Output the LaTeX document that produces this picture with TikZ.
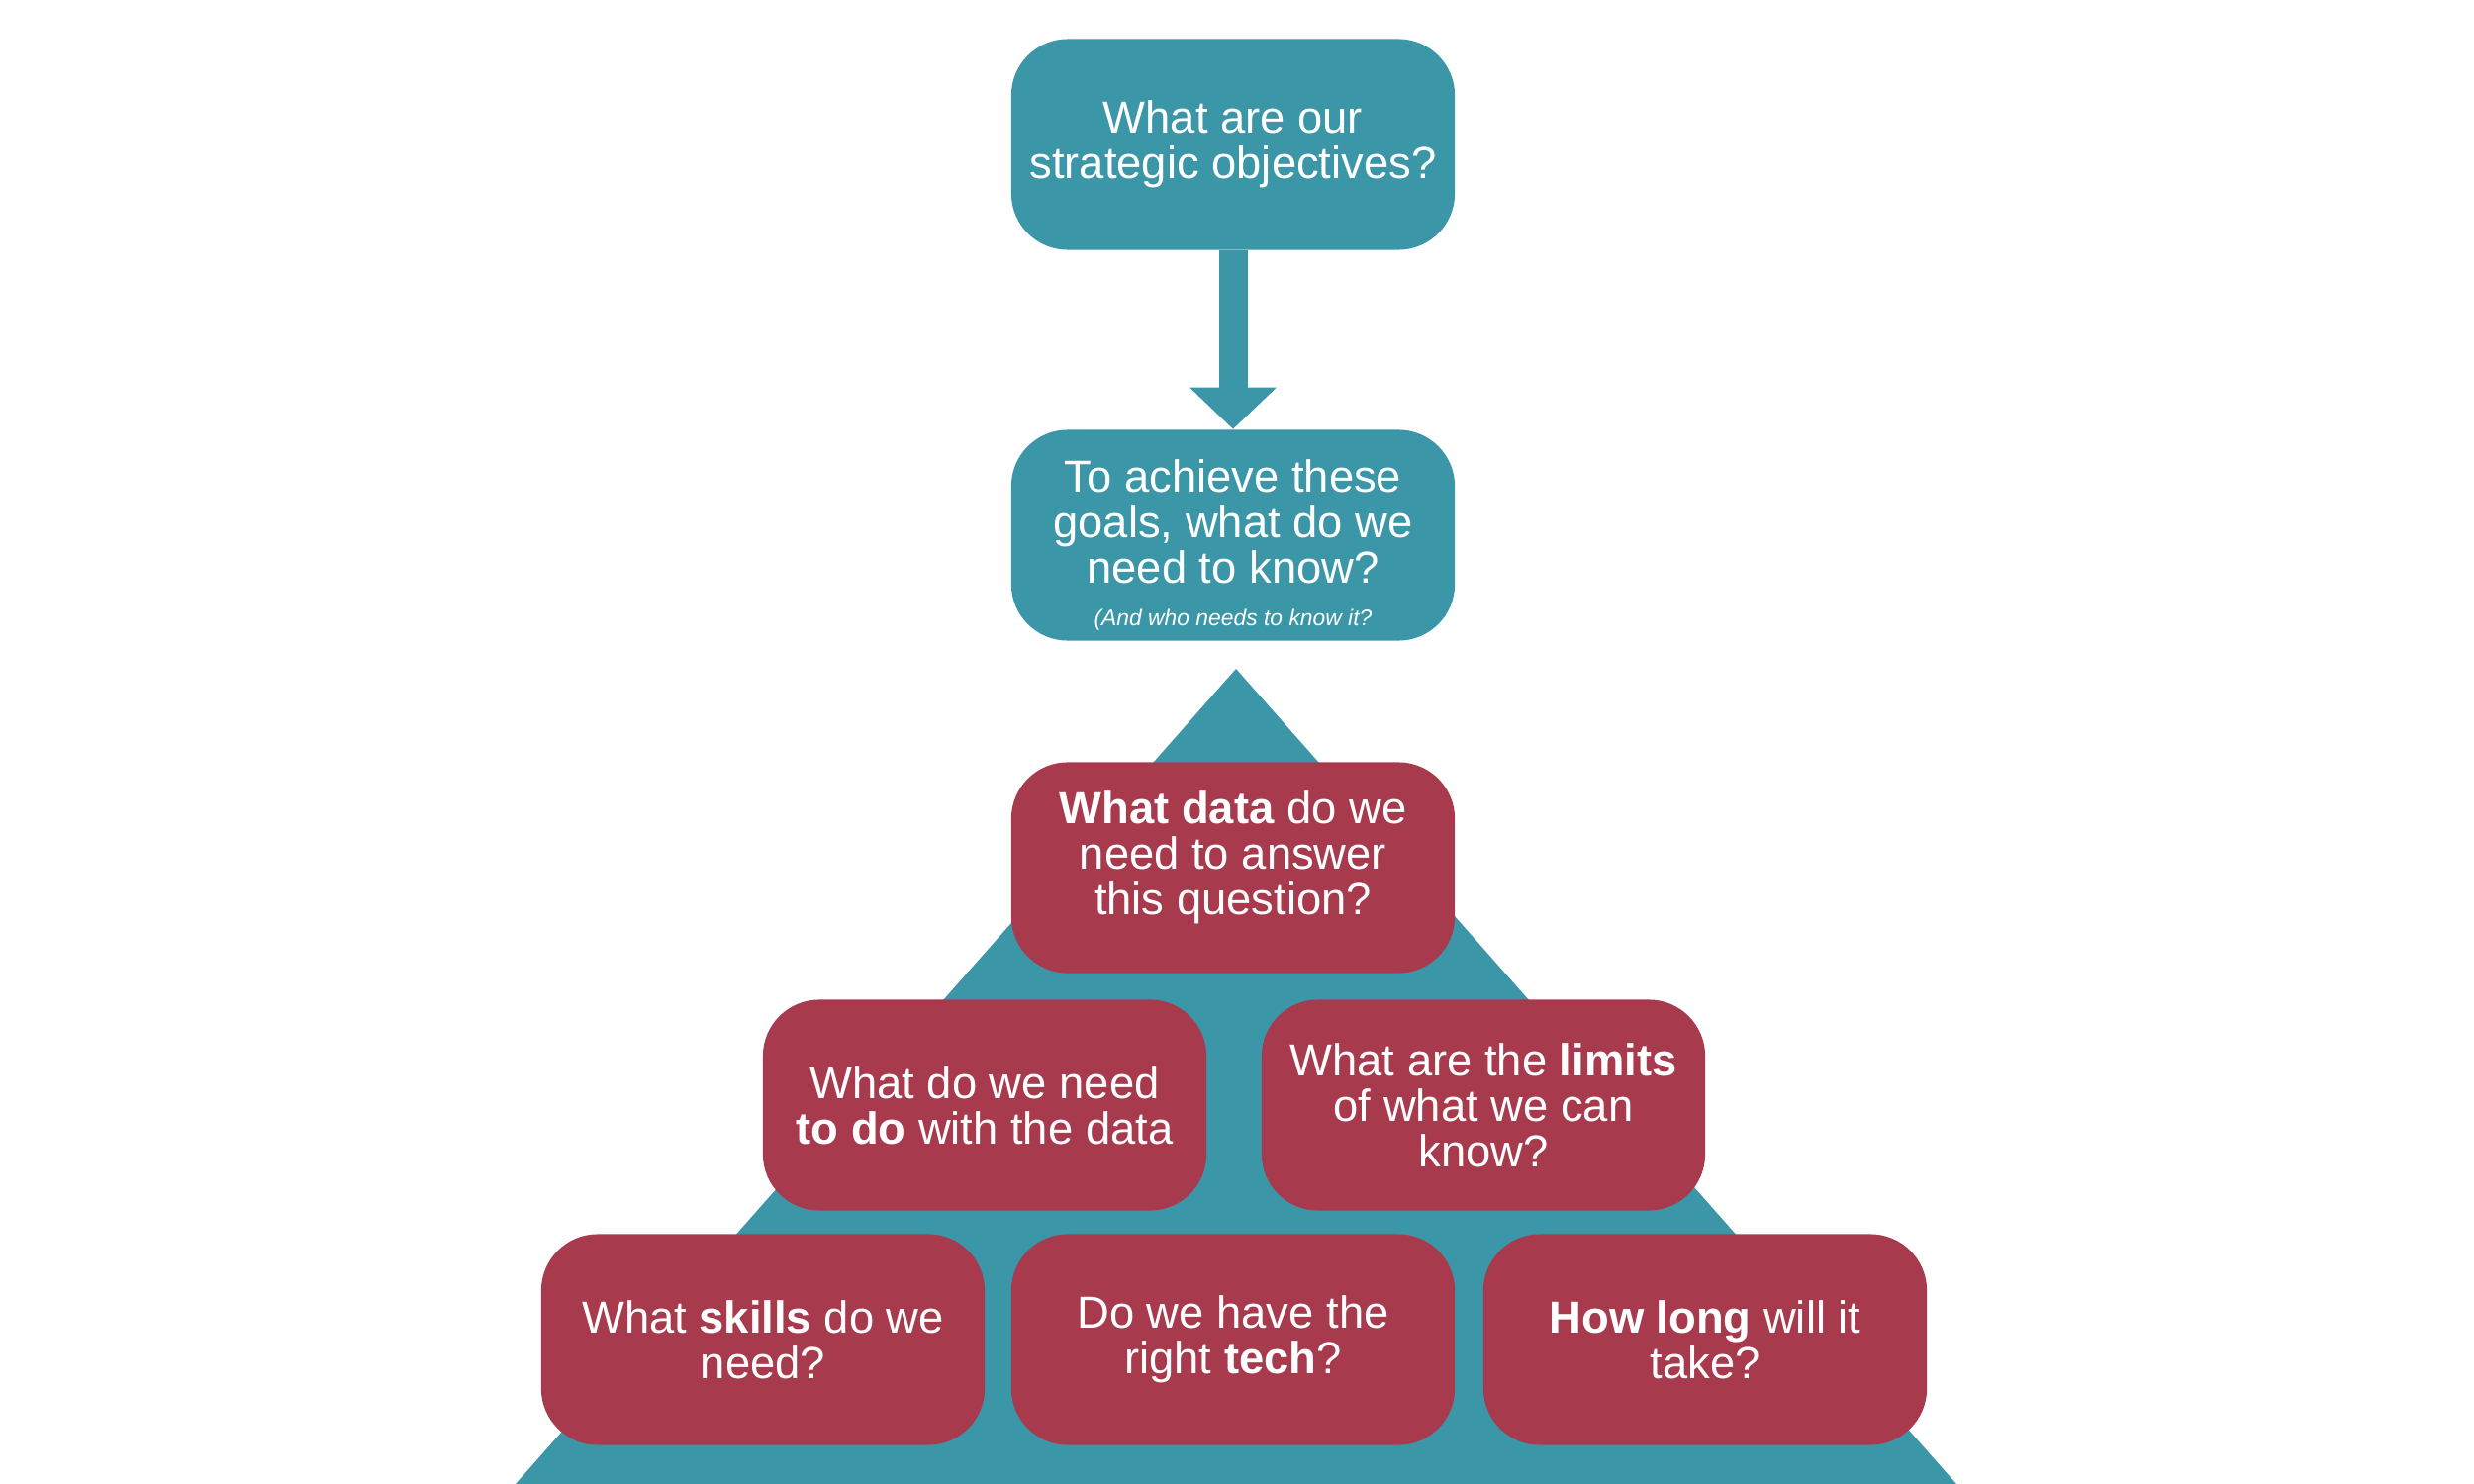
\documentclass[tikz,border=0pt]{standalone}
\usepackage{fontspec}
\setmainfont{Liberation Sans}
\usetikzlibrary{arrows.meta}
\definecolor{tealc}{RGB}{59,150,168}
\definecolor{redc}{RGB}{168,58,77}
\begin{document}
\begin{tikzpicture}[x=0.01cm,y=-0.01cm,
  qbox/.style={rounded corners=0.57cm, minimum width=4.48cm, minimum height=2.13cm,
    inner sep=0pt, align=center, text=white, font=\fontsize{12.9}{13.1}\selectfont},
  tbox/.style={qbox, fill=tealc},
  rbox/.style={qbox, fill=redc},
  bigarrow/.style={draw=tealc, line width=0.29cm, -{Triangle[width=0.85cm,length=0.42cm]}}]
\useasboundingbox (0,0) rectangle (2500,1500);
% pyramid
\coordinate (apex) at (1249,676);
\coordinate (bl) at (521,1500);
\coordinate (br) at (1977,1500);
\fill[tealc] (apex) -- (bl) -- (br) -- cycle;
% teal boxes
\node[tbox] (obj) at (1246,146) {What are our\\strategic objectives?};
\node[tbox] (know) at (1246,541) {\rule{0pt}{15.1pt}To achieve these\\goals, what do we\\need to know?\\[-1pt]{\fontsize{6.5}{8}\selectfont\itshape (And who needs to know it?}};
\draw[bigarrow] (obj.south) -- (know.north);
% red boxes
\node[rbox, text depth=0.30cm] (data) at (1246,877) {\textbf{What data} do we\\need to answer\\this question?};
\node[rbox] (todo) at (995,1117) {What do we need\\\textbf{to do} with the data};
\node[rbox] (limits) at (1499,1117) {What are the \textbf{limits}\\of what we can\\know?};
\node[rbox] (skills) at (771,1354) {What \textbf{skills} do we\\need?};
\node[rbox] (tech) at (1246,1354) {Do we have the\\right \textbf{tech}?};
\node[rbox] (long) at (1723,1354) {\textbf{How long} will it\\take?};
\end{tikzpicture}
\end{document}
